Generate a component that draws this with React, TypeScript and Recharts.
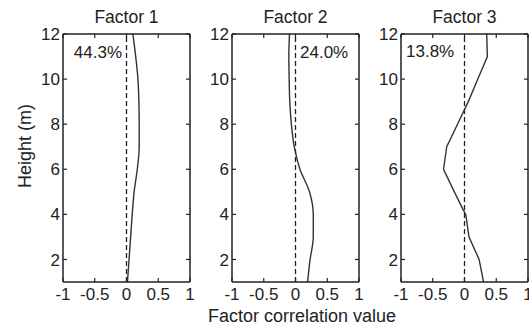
import React from "react";
import {
  LineChart,
  Line,
  XAxis,
  YAxis,
  ReferenceLine,
} from "recharts";

const INK = "#222";
const FONT = '"Liberation Sans", Arial, Helvetica, sans-serif';

// heights (m) and factor correlation values
const heights = [1, 2, 3, 4, 5, 6, 7, 8, 9, 10, 11, 12];
const factor1 = [0.015, 0.04, 0.065, 0.09, 0.12, 0.17, 0.2, 0.2, 0.195, 0.18, 0.145, 0.1];
const factor2 = [0.19, 0.23, 0.28, 0.28, 0.22, 0.07, -0.02, -0.065, -0.09, -0.1, -0.105, -0.095];
const heights3 = [1, 2, 3, 4, 4.2, 5, 6, 7, 8, 9, 10, 11, 12];
const factor3 = [0.3, 0.23, 0.07, 0.02, -0.02, -0.16, -0.33, -0.28, -0.11, 0.06, 0.21, 0.36, 0.35];

const titles = ["Factor 1", "Factor 2", "Factor 3"];
const shares = ["44.3%", "24.0%", "13.8%"];
const xTicks = [-1, -0.5, 0, 0.5, 1];
const yTicks = [2, 4, 6, 8, 10, 12];

const panels = [
  { h: heights, v: factor1, curve: "monotone" },
  { h: heights, v: factor2, curve: "monotone" },
  { h: heights3, v: factor3, curve: "linear" },
];

// layout
const PLOT_W = 127;
const Y_AXIS_W = 45;
const lefts = [63, 232, 401];

const BottomTick = (props: any) => {
  const { x, y, payload } = props;
  return (
    <g>
      <line x1={x} y1={y} x2={x} y2={y - 4} stroke={INK} strokeWidth={1.2} />
      <text x={x} y={y + 18} textAnchor="middle" fill={INK} fontSize={17} fontFamily={FONT}>
        {String(payload.value)}
      </text>
    </g>
  );
};

const LeftTick = (props: any) => {
  const { x, y, payload } = props;
  return (
    <g>
      <line x1={x} y1={y} x2={x + 4} y2={y} stroke={INK} strokeWidth={1.2} />
      <text x={x - 3} y={y} dy="0.36em" textAnchor="end" fill={INK} fontSize={17} fontFamily={FONT}>
        {String(payload.value)}
      </text>
    </g>
  );
};

const TopTick = (props: any) => (
  <line x1={props.x} y1={props.y} x2={props.x} y2={props.y + 4} stroke={INK} strokeWidth={1.2} />
);

const RightTick = (props: any) => (
  <line x1={props.x} y1={props.y} x2={props.x - 4} y2={props.y} stroke={INK} strokeWidth={1.2} />
);

function Panel({ idx }: { idx: number }) {
  const p = panels[idx];
  const data = p.h.map((h, i) => ({ h, v: p.v[i] }));
  const axisLine = { stroke: INK, strokeWidth: 1.5 };
  return (
    <div style={{ position: "absolute", left: lefts[idx] - Y_AXIS_W, top: 0 }}>
      <LineChart
        width={Y_AXIS_W + PLOT_W + 5}
        height={330}
        data={data}
        layout="vertical"
        margin={{ top: 33, right: 4, bottom: 0, left: 0 }}
      >
        <XAxis
          type="number"
          dataKey="v"
          domain={[-1, 1]}
          ticks={xTicks}
          allowDataOverflow
          height={48}
          tickSize={0}
          tickMargin={0}
          tickLine={false}
          axisLine={axisLine}
          tick={BottomTick}
          interval={0}
        />
        <XAxis
          xAxisId="t"
          orientation="top"
          type="number"
          domain={[-1, 1]}
          ticks={xTicks}
          allowDataOverflow
          height={1}
          tickSize={0}
          tickMargin={0}
          tickLine={false}
          axisLine={axisLine}
          tick={TopTick}
          interval={0}
        />
        <YAxis
          type="number"
          dataKey="h"
          domain={[1, 12]}
          ticks={yTicks}
          reversed
          allowDataOverflow
          width={Y_AXIS_W}
          tickSize={0}
          tickMargin={0}
          tickLine={false}
          axisLine={axisLine}
          tick={LeftTick}
          interval={0}
        />
        <YAxis
          yAxisId="r"
          orientation="right"
          type="number"
          dataKey="h"
          domain={[1, 12]}
          ticks={yTicks}
          reversed
          allowDataOverflow
          width={1}
          tickSize={0}
          tickMargin={0}
          tickLine={false}
          axisLine={axisLine}
          tick={RightTick}
          interval={0}
        />
        <ReferenceLine x={0} stroke={INK} strokeWidth={1.3} strokeDasharray="5 3" />
        <Line
          dataKey="v"
          type={p.curve as any}
          stroke="#333"
          strokeWidth={1.4}
          dot={false}
          isAnimationActive={false}
        />
      </LineChart>
    </div>
  );
}

export default function App() {
  return (
    <div
      style={{
        position: "absolute",
        left: 0,
        top: 0,
        width: 529,
        height: 330,
        overflow: "hidden",
        background: "#fff",
        fontFamily: FONT,
      }}
    >
      {[0, 1, 2].map((i) => (
        <Panel key={i} idx={i} />
      ))}
      <svg
        width={529}
        height={330}
        style={{ position: "absolute", left: 0, top: 0, pointerEvents: "none" }}
        fontFamily={FONT}
        fill={INK}
      >
        {titles.map((t, i) => (
          <text key={t} x={lefts[i] + PLOT_W / 2} y={23} textAnchor="middle" fontSize={17.5}>
            {t}
          </text>
        ))}
        <text x={122} y={58} textAnchor="end" fontSize={17}>{shares[0]}</text>
        <text x={300} y={58} textAnchor="start" fontSize={17}>{shares[1]}</text>
        <text x={406} y={57} textAnchor="start" fontSize={17}>{shares[2]}</text>
        <text
          x={25}
          y={146}
          textAnchor="middle"
          dominantBaseline="central"
          fontSize={18}
          transform="rotate(-90 25 146)"
        >
          Height (m)
        </text>
        <text x={302} y={322} textAnchor="middle" fontSize={18}>
          Factor correlation value
        </text>
      </svg>
    </div>
  );
}
